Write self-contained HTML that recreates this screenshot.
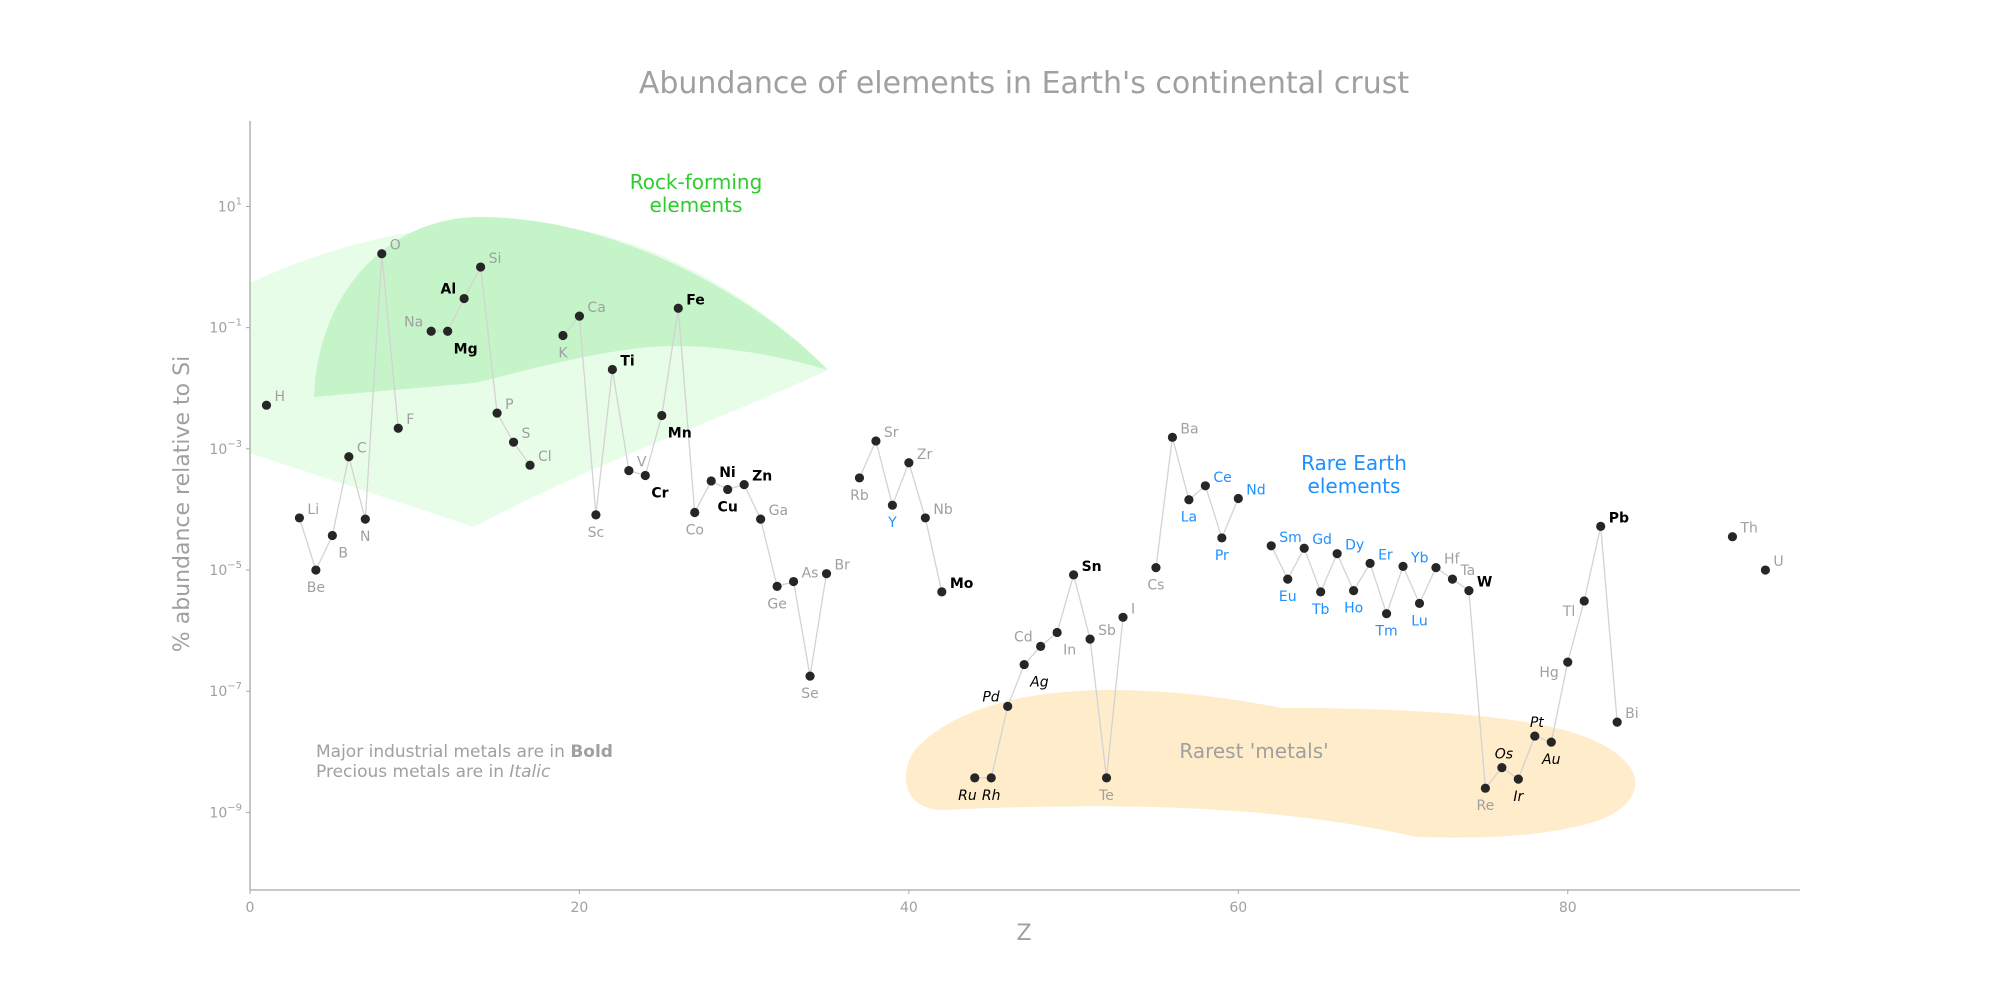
<!DOCTYPE html>
<html><head><meta charset="utf-8"><style>
html,body{margin:0;padding:0;background:#fff;}
svg{display:block;font-family:"DejaVu Sans","Liberation Sans",sans-serif;}
</style></head><body>
<svg id="chart" width="2000" height="1000" viewBox="0 0 2000 1000">
<text x="1024" y="93" text-anchor="middle" font-size="30" fill="#a0a0a0">Abundance of elements in Earth's continental crust</text>
<g>
<path d="M250,283 C360,232 450,224 520,224 C640,224 760,300 828,370 C720,420 600,460 474,527 L250,453 Z" fill="#e8fde8"/>
<path d="M314,397 C318,290 390,217 480,217 C620,217 760,300 828,370 C760,350 690,342 640,348 C580,355 520,372 474,383 Z" fill="#c4f4c8"/>
<path d="M944,810 C900,810 900,770 915,750 C960,700 1050,690 1110,690 C1180,690 1240,700 1282,708 C1400,708 1520,714 1580,735 C1650,760 1650,800 1600,820 C1540,840 1460,838 1416,837 C1300,810 1150,800 944,810 Z" fill="#ffecca"/>
</g>
<g id="axes"></g>
<g id="marks"></g>
<text x="696" y="189" text-anchor="middle" font-size="20" fill="#2ecc2e"><tspan x="696">Rock-forming</tspan><tspan x="696" dy="23">elements</tspan></text>
<text x="1354" y="470" text-anchor="middle" font-size="20" fill="#1e90ff"><tspan x="1354">Rare Earth</tspan><tspan x="1354" dy="23">elements</tspan></text>
<text x="1254" y="758" text-anchor="middle" font-size="20" fill="#a0a0a0">Rarest 'metals'</text>
<text x="316" y="757" font-size="17" fill="#a0a0a0">Major industrial metals are in <tspan font-weight="bold">Bold</tspan></text>
<text x="316" y="777" font-size="17" fill="#a0a0a0">Precious metals are in <tspan font-style="italic">Italic</tspan></text>
<text x="1024" y="940" text-anchor="middle" font-size="22" fill="#a0a0a0">Z</text>
<text x="0" y="0" transform="translate(189,504) rotate(-90)" text-anchor="middle" font-size="22" fill="#a0a0a0">% abundance relative to Si</text>
</svg>
<script>
const symbols=["H","He","Li","Be","B","C","N","O","F","Ne","Na","Mg","Al","Si","P","S","Cl","Ar","K","Ca","Sc","Ti","V","Cr","Mn","Fe","Co","Ni","Cu","Zn","Ga","Ge","As","Se","Br","Kr","Rb","Sr","Y","Zr","Nb","Mo","Tc","Ru","Rh","Pd","Ag","Cd","In","Sn","Sb","Te","I","Xe","Cs","Ba","La","Ce","Pr","Nd","Pm","Sm","Eu","Gd","Tb","Dy","Ho","Er","Tm","Yb","Lu","Hf","Ta","W","Re","Os","Ir","Pt","Au","Hg","Tl","Pb","Bi","Po","At","Rn","Fr","Ra","Ac","Th","Pa","U"];
const logAbundance=[-2.28,null,-4.14,-5.0,-4.43,-3.13,-4.16,0.22,-2.66,null,-1.06,-1.06,-0.52,0.0,-2.41,-2.89,-3.27,null,-1.13,-0.81,-4.09,-1.69,-3.36,-3.44,-2.45,-0.68,-4.05,-3.53,-3.67,-3.59,-4.16,-5.27,-5.19,-6.75,-5.06,null,-3.48,-2.87,-3.93,-3.23,-4.14,-5.36,null,-8.43,-8.43,-7.25,-6.56,-6.26,-6.03,-5.08,-6.14,-8.43,-5.78,null,-4.96,-2.81,-3.84,-3.61,-4.47,-3.82,null,-4.6,-5.15,-4.64,-5.36,-4.73,-5.34,-4.89,-5.72,-4.94,-5.55,-4.96,-5.15,-5.34,-8.6,-8.26,-8.45,-7.74,-7.84,-6.52,-5.51,-4.28,-7.51,null,null,null,null,null,null,-4.45,null,-5.0];
const labelPos={H:"r",Li:"r",Be:"b",B:"br",C:"r",N:"b",O:"r",F:"r",Na:"l",Mg:"br",Al:"l",Si:"r",P:"r",S:"r",Cl:"r",K:"b",Ca:"r",Sc:"b",Ti:"r",V:"r",Cr:"br",Mn:"br",Fe:"r",Co:"b",Ni:"r",Cu:"b",Zn:"r",Ga:"r",Ge:"b",As:"r",Se:"b",Br:"r",Rb:"b",Sr:"r",Y:"b",Zr:"r",Nb:"r",Mo:"r",Ru:"bl",Rh:"b",Pd:"l",Ag:"br",Cd:"l",In:"br",Sn:"r",Sb:"r",Te:"b",I:"r",Cs:"b",Ba:"r",La:"b",Ce:"r",Pr:"b",Nd:"r",Sm:"r",Eu:"b",Gd:"r",Tb:"b",Dy:"r",Ho:"b",Er:"r",Tm:"b",Yb:"r",Lu:"b",Hf:"r",Ta:"r",W:"r",Re:"b",Os:"t",Ir:"b",Pt:"t",Au:"b",Hg:"lb",Tl:"lb",Pb:"r",Bi:"r",Th:"r",U:"r"};
const boldSet=["Al","Mg","Ti","Cr","Mn","Fe","Ni","Cu","Zn","Mo","Sn","W","Pb"];
const italicSet=["Ru","Rh","Pd","Ag","Os","Ir","Pt","Au"];
const blueSet=["Y","La","Ce","Pr","Nd","Sm","Eu","Gd","Tb","Dy","Ho","Er","Tm","Yb","Lu"];
const xTicks=[0,20,40,60,80];
const yTicks=[1,-1,-3,-5,-7,-9];

const NS="http://www.w3.org/2000/svg";
const X0=250,X1=1800,XMIN=0,XMAX=94.1;
const Y0=890,Y1=121,YMIN=-10.28,YMAX=2.41;
function xs(z){return X0+(z-XMIN)/(XMAX-XMIN)*(X1-X0);}
function ys(l){return Y0-(l-YMIN)/(YMAX-YMIN)*(Y0-Y1);}
function mk(tag,attrs,parent){const e=document.createElementNS(NS,tag);for(const k in attrs)e.setAttribute(k,attrs[k]);parent.appendChild(e);return e;}

const axes=document.getElementById('axes');
let e=mk('line',{x1:X0,y1:Y1,x2:X0,y2:Y0,stroke:'#a8a8a8','stroke-width':1.3},axes);


e=mk('line',{x1:X0,y1:Y0,x2:X1,y2:Y0,stroke:'#a8a8a8','stroke-width':1.3},axes);


xTicks.forEach(t=>{
  const x=xs(t);
  const tk=mk('line',{x1:x,y1:Y0,x2:x,y2:Y0+4,stroke:'#a8a8a8'},axes);
  
  
  const tl=mk('text',{x:x,y:Y0+22,'text-anchor':'middle','font-size':14,fill:'#a0a0a0'},axes);
  tl.textContent=String(t);
  
  
});
yTicks.forEach(t=>{
  const y=ys(t);
  const tk=mk('line',{x1:X0-4,y1:y,x2:X0,y2:y,stroke:'#a8a8a8'},axes);
  
  
  const tl=mk('text',{x:X0-8,y:y+5,'text-anchor':'end','font-size':14,fill:'#a0a0a0'},axes);
  
  
  tl.appendChild(document.createTextNode('10'));
  const sup=mk('tspan',{dy:-7,'font-size':10},tl);
  sup.textContent=t<0?'\u2212'+(-t):String(t);
});

const marks=document.getElementById('marks');
let seg=[];
function flush(){
  if(seg.length>1){
    const p=mk('polyline',{points:seg.join(' '),fill:'none',stroke:'#d3d3d3','stroke-width':1.3},marks);
    
    
  }
  seg=[];
}
logAbundance.forEach((v,i)=>{
  if(v===null){flush();return;}
  seg.push(xs(i+1).toFixed(1)+','+ys(v).toFixed(1));
});
flush();
logAbundance.forEach((v,i)=>{
  if(v===null)return;
  const s=symbols[i];
  const cx=xs(i+1),cy=ys(v);
  const c=mk('circle',{cx:cx,cy:cy,r:4.6,fill:'#262626'},marks);
  
  
  const pos=labelPos[s]||'r';
  let dx=8,dy=-4,anc='start';
  if(pos==='b'){dx=0;dy=22;anc='middle';}
  else if(pos==='br'){dx=6;dy=22;anc='start';}
  else if(pos==='bl'){dx=2;dy=22;anc='end';}
  else if(pos==='l'){dx=-8;dy=-5;anc='end';}
  else if(pos==='lb'){dx=-9;dy=15;anc='end';}
  else if(pos==='t'){dx=2;dy=-9;anc='middle';}
  let fill='#a0a0a0',fw='normal',fs='normal';
  if(boldSet.includes(s)){fill='#000';fw='bold';}
  if(italicSet.includes(s)){fill='#000';fs='italic';}
  if(blueSet.includes(s)){fill='#1e90ff';}
  const t=mk('text',{x:cx+dx,y:cy+dy,'text-anchor':anc,'font-size':14,fill:fill,'font-weight':fw,'font-style':fs},marks);
  t.textContent=s;
  
  
});
</script>
</body></html>
